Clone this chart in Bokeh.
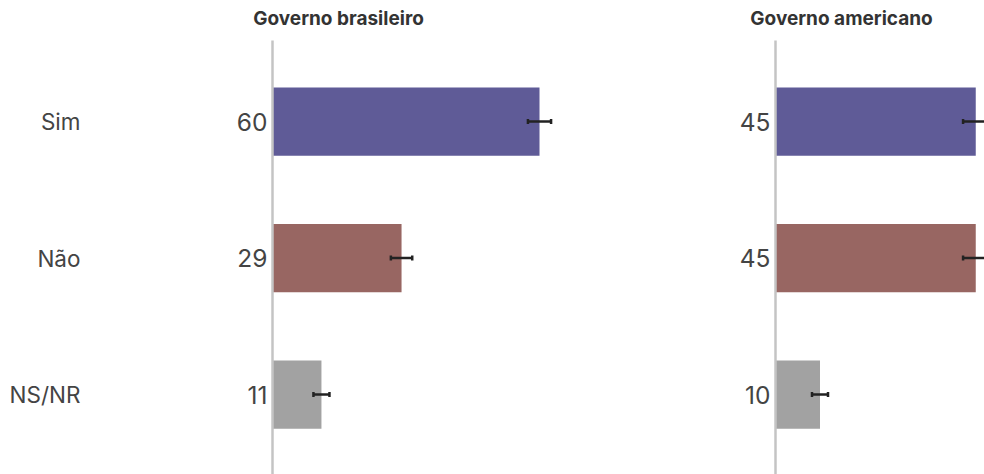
from bokeh.plotting import figure
from bokeh.models import ColumnDataSource, Range1d, Whisker, TeeHead
from bokeh.layouts import row
from bokeh.embed import file_html
from bokeh.resources import INLINE
from bokeh.core.properties import value

categories = ["Sim", "Não", "NS/NR"]
colors = ["#5f5b97", "#986662", "#a2a2a2"]
titles = ["Governo brasileiro", "Governo americano"]
br_values = [60, 29, 11]
br_errors = [2.6, 2.4, 1.8]
us_values = [45, 45, 10]
us_errors = [2.85, 2.85, 1.8]

FONT = "Inter"
PX_X = 4.45          # pixels per percentage point
PX_Y = 136.5         # pixels per category
H = 474
Y_END = 2 + 121 / PX_Y
Y_START = Y_END - H / PX_Y
Y_AXIS_TOP = Y_END - 40 / PX_Y
Y_TITLE = Y_END - 18 / PX_Y
ypos = [len(categories) - 1 - i for i in range(len(categories))]


def panel(title, vals, errs, width, x_start, show_cats):
    src = ColumnDataSource(dict(
        y=ypos, v=vals, lo=[a - b for a, b in zip(vals, errs)],
        hi=[a + b for a, b in zip(vals, errs)], c=colors,
        lab=[str(v) for v in vals], cat=categories,
        x0=[0] * len(vals)))
    p = figure(width=width, height=H, output_backend="svg", toolbar_location=None,
               x_range=Range1d(x_start, x_start + width / PX_X),
               y_range=Range1d(Y_START, Y_END), min_border=0)
    p.axis.visible = False
    p.grid.visible = False
    p.outline_line_color = None
    p.hbar(y="y", left=0, right="v", height=0.5, color="c", line_color=None, source=src)
    w = Whisker(base="y", lower="lo", upper="hi", dimension="width", source=src,
                level="overlay", line_color="#222222", line_width=2.5,
                lower_head=TeeHead(size=5, line_color="#222222", line_width=2.5),
                upper_head=TeeHead(size=5, line_color="#222222", line_width=2.5))
    p.add_layout(w)
    p.segment(x0=[0], y0=[Y_AXIS_TOP], x1=[0], y1=[Y_START], line_color="#c4c4c4", line_width=2.5)
    p.text(x="x0", y="y", text="lab", source=src, x_offset=-5, text_align="right",
           text_baseline="middle", text_font=value(FONT), text_font_size="24.5px",
           text_color="#444444")
    if show_cats:
        p.text(x="x0", y="y", text="cat", source=src, x_offset=-192, text_align="right",
               text_baseline="middle", text_font=value(FONT), text_font_size="22.5px",
               text_color="#444444")
    p.text(x=[0], y=[Y_TITLE], text=[title], x_offset=66, text_align="center",
           text_baseline="middle", text_font=value(FONT), text_font_size="19px",
           text_font_style="bold", text_color="#333333")
    return p


p1 = panel(titles[0], br_values, br_errors, 700, -272 / PX_X, True)
p2 = panel(titles[1], us_values, us_errors, 284, -(775 - 700) / PX_X, False)
layout = row(p1, p2, spacing=0)
open("out.html", "w").write(file_html(layout, INLINE))
